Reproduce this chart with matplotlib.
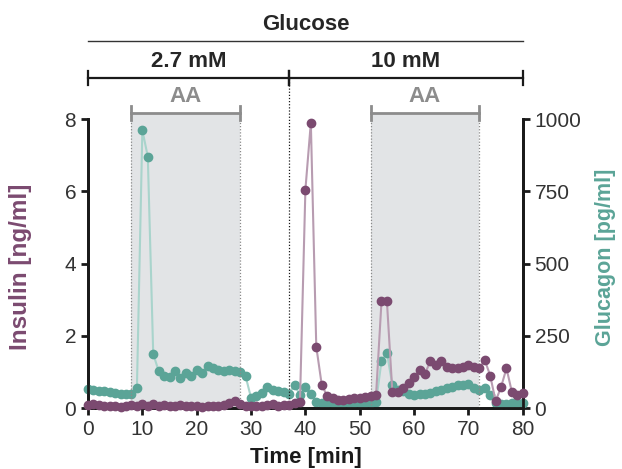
import matplotlib
matplotlib.use('Agg')
import matplotlib.pyplot as plt
import numpy as np

plt.rcParams['font.family'] = ['Liberation Sans', 'DejaVu Sans']

# time axis, one sample per minute
time = list(range(0, 81))

insulin = [0.08, 0.10, 0.08, 0.06, 0.05, 0.05, 0.03, 0.05, 0.08, 0.05,
           0.10, 0.06, 0.10, 0.05, 0.08, 0.06, 0.05, 0.08, 0.05, 0.06,
           0.05, 0.03, 0.05, 0.06, 0.05, 0.08, 0.15, 0.20, 0.10, 0.05,
           0.05, 0.06, 0.05, 0.08, 0.10, 0.06, 0.08, 0.08, 0.14, 0.17,
           6.05, 7.90, 1.70, 0.65, 0.33, 0.28, 0.22, 0.22, 0.25, 0.27,
           0.28, 0.30, 0.32, 0.35, 2.95, 2.95, 0.45, 0.45, 0.55, 0.70,
           0.85, 1.05, 0.95, 1.30, 1.20, 1.30, 1.15, 1.12, 1.10, 1.15,
           1.20, 1.15, 1.10, 1.33, 0.90, 0.19, 0.58, 1.10, 0.44, 0.36,
           0.42]

glucagon = [65, 62, 60, 58, 55, 52, 50, 48, 48, 70,
            962, 870, 187, 128, 110, 107, 128, 104, 121, 112,
            130, 122, 145, 138, 132, 128, 130, 128, 124, 110,
            35, 42, 52, 72, 64, 60, 55, 50, 80, 45,
            72, 48, 20, 18, 18, 18, 18, 18, 18, 18,
            18, 18, 18, 20, 163, 190, 80, 62, 58, 50,
            45, 48, 50, 52, 58, 62, 68, 72, 78, 80,
            82, 70, 62, 69, 45, 17, 15, 14, 18, 18,
            18]

aa_windows = [(8, 28), (52, 72)]
glucose_steps = [(0, 37, '2.7 mM'), (37, 80, '10 mM')]

purple = '#7b4a70'
purple_line = '#b89cb1'
teal = '#5ba497'
teal_line = '#a9d4cc'

fig = plt.figure(figsize=(6.22, 4.69), dpi=100)
ax = fig.add_axes([0.1415, 0.130, 0.699, 0.616])
ax2 = ax.twinx()
ax.set_zorder(ax2.get_zorder() + 1)
ax.patch.set_visible(False)

trans = ax.get_xaxis_transform()

# AA shading + brackets
for x0, x1 in aa_windows:
    ax2.axvspan(x0, x1, ymin=0, ymax=1.021, color='#e2e4e6', zorder=0, clip_on=False, lw=0)
    for xe in (x0, x1):
        ax.plot([xe, xe], [0, 1.021], transform=trans, color='#8a8a8a', lw=0.9,
                ls=(0, (1, 1.5)), clip_on=False, zorder=1)
        ax.plot([xe, xe], [0.998, 1.045], transform=trans, color='#8c8c8c', lw=2,
                clip_on=False)
    ax.plot([x0, x1], [1.021, 1.021], transform=trans, color='#8c8c8c', lw=2,
            clip_on=False)
    ax.text((x0 + x1) / 2, 1.077, 'AA', transform=trans, ha='center', va='center',
            fontsize=16, fontweight='bold', color='#8c8c8c')

# glucose brackets
for x0, x1, lab in glucose_steps:
    ax.plot([x0, x1], [1.142, 1.142], transform=trans, color='#1a1a1a', lw=1.6,
            clip_on=False)
    for xe in (x0, x1):
        ax.plot([xe, xe], [1.118, 1.166], transform=trans, color='#1a1a1a', lw=1.6,
                clip_on=False)
    ax.text((x0 + x1) / 2, 1.198, lab, transform=trans, ha='center', va='center',
            fontsize=16, fontweight='bold', color='#262626')

ax.plot([0, 80], [1.272, 1.272], transform=trans, color='#333333', lw=1, clip_on=False)
ax.text(40, 1.328, 'Glucose', transform=trans, ha='center', va='center',
        fontsize=16, fontweight='bold', color='#262626')

# switch between glucose levels
ax.plot([37, 37], [0, 1.142], transform=trans, color='#1a1a1a', lw=0.9,
        ls=(0, (1, 1.5)), clip_on=False, zorder=1)

ax2.plot(time, glucagon, color=teal_line, lw=1.5, marker='o', ms=6,
         mfc=teal, mec=teal, clip_on=False, zorder=3)
ax.plot(time, insulin, color=purple_line, lw=1.5, marker='o', ms=6,
        mfc=purple, mec=purple, clip_on=False, zorder=3)

ax.set_xlim(0, 80)
ax.set_ylim(0, 8)
ax2.set_ylim(0, 1000)
ax.set_xticks(range(0, 81, 10))
ax.set_yticks([0, 2, 4, 6, 8])
ax2.set_yticks([0, 250, 500, 750, 1000])

for a in (ax, ax2):
    a.spines['top'].set_visible(False)
    for s in ('left', 'right', 'bottom'):
        a.spines[s].set_linewidth(2)
        a.spines[s].set_color('#1a1a1a')
    a.tick_params(width=2, length=5, labelsize=15, colors='#1a1a1a',
                  labelcolor='#333333')

ax.set_xlabel('Time [min]', fontsize=16, fontweight='bold', color='#1a1a1a')
ax.xaxis.set_label_coords(0.5, -0.135)
ax.set_ylabel('Insulin [ng/ml]', fontsize=17.5, fontweight='bold', color=purple)
ax.yaxis.set_label_coords(-0.128, 0.49)
ax2.set_ylabel('Glucagon [pg/ml]', fontsize=15.5, fontweight='bold', color=teal)
ax2.yaxis.set_label_coords(1.166, 0.52)

plt.savefig('out.png', dpi=100)
